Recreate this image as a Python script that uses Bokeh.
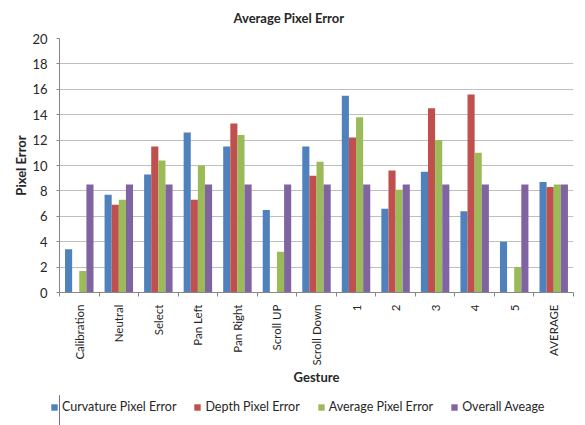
import math
from bokeh.plotting import figure
from bokeh.layouts import column
from bokeh.models import ColumnDataSource, FixedTicker, Legend, LegendItem, Range1d, Title
from bokeh.transform import dodge
from bokeh.embed import file_html
from bokeh.resources import INLINE

categories = ["Calibration", "Neutral", "Select", "Pan Left", "Pan Right", "Scroll UP",
              "Scroll Down", "1", "2", "3", "4", "5", "AVERAGE"]
curvature_err = [3.4, 7.7, 9.3, 12.6, 11.5, 6.5, 11.5, 15.5, 6.6, 9.5, 6.4, 4.0, 8.7]
depth_err = [0.0, 6.9, 11.5, 7.3, 13.3, 0.0, 9.2, 12.2, 9.6, 14.5, 15.6, 0.0, 8.3]
average_err = [1.7, 7.3, 10.4, 10.0, 12.4, 3.2, 10.3, 13.8, 8.1, 12.0, 11.0, 2.0, 8.5]
overall_avg = [8.5, 8.5, 8.5, 8.5, 8.5, 8.5, 8.5, 8.5, 8.5, 8.5, 8.5, 8.5, 8.5]
series_names = ["Curvature Pixel Error", "Depth Pixel Error", "Average Pixel Error", "Overall Aveage"]
y_ticks = [0, 2, 4, 6, 8, 10, 12, 14, 16, 18, 20]

colors = ["#4F81BD", "#C0504D", "#9BBB59", "#8064A2"]
FONT = "Lato"
TXT = "#262626"
AXIS = "#868686"

n = len(categories)
centers = [i + 0.5 for i in range(n)]
src = ColumnDataSource(dict(center=centers, cat=categories, s0=curvature_err, s1=depth_err,
                            s2=average_err, s3=overall_avg))
cols = ["s0", "s1", "s2", "s3"]
bar_w = 0.18
offsets = [-0.27, -0.09, 0.09, 0.27]

p = figure(width=585, height=395, x_range=Range1d(0, n), y_range=Range1d(0, 20),
           output_backend="svg", toolbar_location=None,
           min_border_left=59, min_border_right=12, min_border_top=38, min_border_bottom=103)
p.outline_line_color = None

p.title.text = "Average Pixel Error"
p.title.align = "left"
p.title.offset = 174
p.title.text_font = FONT
p.title.text_font_size = "13px"
p.title.text_font_style = "bold"
p.title.text_color = TXT
p.add_layout(Title(text=" ", text_font_size="6px", standoff=0), "above")

for k, col in enumerate(cols):
    p.vbar(x=dodge("center", offsets[k], range=p.x_range), top=col, width=bar_w,
           source=src, fill_color=colors[k], line_color=None)

# x axis
xt = FixedTicker(ticks=centers, minor_ticks=list(range(n + 1)))
p.xaxis.ticker = xt
p.xaxis.major_label_overrides = {c: lab for c, lab in zip(centers, categories)}
p.xaxis.major_label_orientation = math.pi / 2
p.xaxis.major_tick_line_color = None
p.xaxis.major_tick_out = 0
p.xaxis.major_tick_in = 0
p.xaxis.minor_tick_out = 4
p.xaxis.minor_tick_in = 0
p.xaxis.minor_tick_line_color = AXIS
p.xaxis.axis_line_color = AXIS
p.xaxis.major_label_standoff = 8
p.xaxis.major_label_text_font = FONT
p.xaxis.major_label_text_font_size = "11.5px"
p.xaxis.major_label_text_color = TXT
p.xaxis.axis_label = "Gesture"
p.xaxis.axis_label_text_font = FONT
p.xaxis.axis_label_text_font_size = "13px"
p.xaxis.axis_label_text_font_style = "bold"
p.xaxis.axis_label_text_color = TXT
p.xaxis.axis_label_standoff = 0

# y axis
p.yaxis.ticker = FixedTicker(ticks=y_ticks)
p.yaxis.major_tick_out = 3
p.yaxis.major_tick_in = 0
p.yaxis.major_tick_line_color = AXIS
p.yaxis.minor_tick_line_color = None
p.yaxis.axis_line_color = AXIS
p.yaxis.major_label_standoff = 9
p.yaxis.major_label_text_font = FONT
p.yaxis.major_label_text_font_size = "13px"
p.yaxis.major_label_text_color = TXT
p.yaxis.axis_label = "Pixel Error"
p.yaxis.axis_label_text_font = FONT
p.yaxis.axis_label_text_font_size = "13px"
p.yaxis.axis_label_text_font_style = "bold"
p.yaxis.axis_label_text_color = TXT
p.yaxis.axis_label_standoff = 0

p.xgrid.grid_line_color = None
p.ygrid.grid_line_color = "#BFBFBF"

# legend strip (bars drawn off-view there, only their legend swatches show)
lg = figure(frame_width=585, frame_height=30, x_range=Range1d(1000, 1001), y_range=Range1d(0, 1),
            x_axis_location=None, y_axis_location=None, output_backend="svg",
            toolbar_location=None, min_border=0)
lg.outline_line_color = None
lg.xgrid.visible = False
lg.ygrid.visible = False
items = []
for k, nm in enumerate(series_names):
    r = lg.vbar(x=dodge("center", offsets[k]), top=cols[k], width=bar_w, source=src,
                fill_color=colors[k], line_color=None)
    items.append(LegendItem(label=nm, renderers=[r]))
legend = Legend(items=items, orientation="horizontal", location=(50, 11), border_line_color=None,
                background_fill_alpha=0, glyph_width=8, glyph_height=8, label_standoff=4,
                spacing=17, padding=0, margin=0, label_text_font=FONT,
                label_text_font_size="12.5px", label_text_color=TXT)
lg.add_layout(legend, "center")

layout = column(p, lg, spacing=0)

open("out.html", "w").write(file_html(layout, INLINE))
